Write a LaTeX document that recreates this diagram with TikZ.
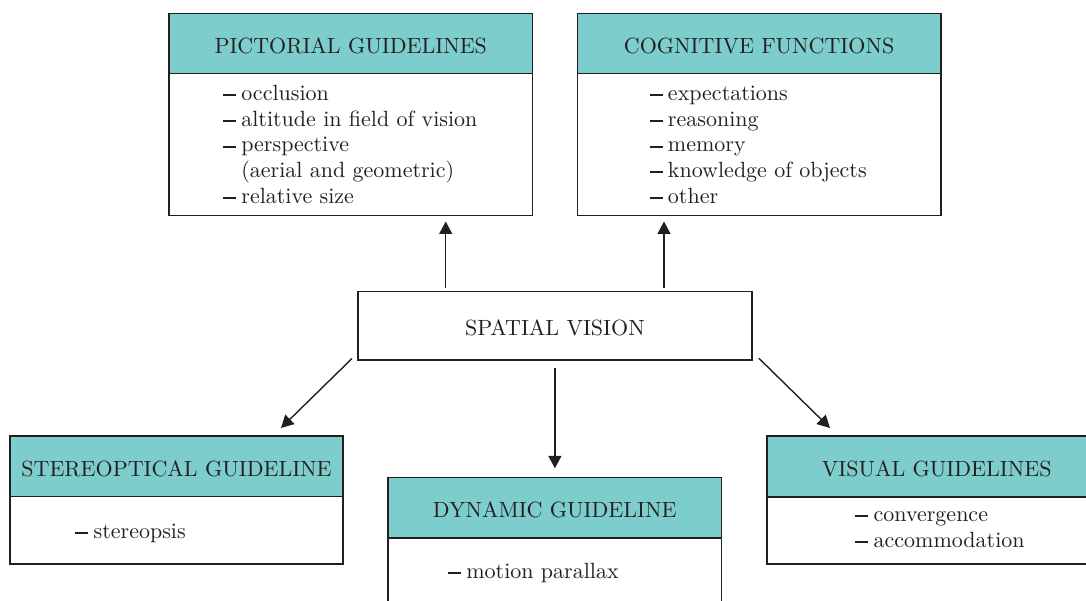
\documentclass[tikz,border=0pt]{standalone}
\usepackage{fontspec}
\setmainfont[Extension=.otf, UprightFont=*-regular]{lmroman10}
\usetikzlibrary{arrows.meta,calc}

\definecolor{ink}{RGB}{35,31,32}
\definecolor{headfill}{RGB}{124,205,203}

% short heavy dash that opens every list entry
\newcommand\itemdash{\rule[0.2em]{0.6em}{0.095em}\hspace{0.24em}}

\tikzset{
  every node/.style={font=\fontsize{22}{25.7}\selectfont, text=ink},
  hdr/.style={draw=ink, line width=1.5pt, fill=headfill, anchor=north west,
              inner sep=0pt, text height=20pt, text depth=0pt},
  bodybox/.style={draw=ink, line width=1.5pt, fill=white, anchor=north west, inner sep=0pt},
  entry/.style={anchor=base west, inner sep=0pt},
  arr/.style={draw=ink, line width=1.4pt, -{Triangle[length=12.5pt,width=13pt]}},
}

\begin{document}
\begin{tikzpicture}[x=1pt, y=-1pt]
\useasboundingbox (0,0) rectangle (1086,601);
\clip (0,0) rectangle (1086,601);

% ---- pictorial guidelines ----
\node[bodybox, minimum width=363.4pt, minimum height=142.3pt] (pictB) at (168.3,72.7) {};
\node[hdr, minimum width=363.4pt, minimum height=60pt] (pictH) at (168.3,12.7) {PICTORIAL GUIDELINES};
\node[entry] (p1) at (222.7,100.7) {\itemdash occlusion};
\node[entry] (p2) at (222.7,126.4) {\itemdash altitude in field of vision};
\node[entry] (p3) at (222.7,152.0) {\itemdash perspective};
\node[entry] (p4) at (222.7,177.6) {\phantom{\itemdash}(aerial and geometric)};
\node[entry] (p5) at (222.7,203.3) {\itemdash relative size};

% ---- cognitive functions ----
\node[bodybox, minimum width=363.3pt, minimum height=142.3pt] (cogB) at (576.7,72.7) {};
\node[hdr, minimum width=363.3pt, minimum height=60pt] (cogH) at (576.7,12.7) {COGNITIVE FUNCTIONS};
\node[entry] (c1) at (649.3,100.7) {\itemdash expectations};
\node[entry] (c2) at (649.3,126.4) {\itemdash reasoning};
\node[entry] (c3) at (649.3,152.0) {\itemdash memory};
\node[entry] (c4) at (649.3,177.6) {\itemdash knowledge of objects};
\node[entry] (c5) at (649.3,203.3) {\itemdash other};

% ---- spatial vision ----
\node[draw=ink, line width=1.5pt, fill=white, anchor=north west, inner sep=0pt,
      minimum width=393.7pt, minimum height=68.3pt, text height=20pt, text depth=0pt]
      (spat) at (357.3,291) {SPATIAL VISION};

% ---- stereoptical guideline ----
\node[bodybox, minimum width=333pt, minimum height=67.6pt] (sterB) at (9.3,495.7) {};
\node[hdr, minimum width=333pt, minimum height=60.7pt] (sterH) at (9.3,435) {STEREOPTICAL GUIDELINE};
\node[entry] (s1) at (75,538.3) {\itemdash stereopsis};

% ---- dynamic guideline ----
\node[bodybox, minimum width=333.4pt, minimum height=80pt] (dynB) at (387.3,537.3) {};
\node[hdr, minimum width=333.4pt, minimum height=60.6pt] (dynH) at (387.3,476.7) {DYNAMIC GUIDELINE};
\node[entry] (d1) at (447.7,578.3) {\itemdash motion parallax};

% ---- visual guidelines ----
\node[bodybox, minimum width=340pt, minimum height=67.3pt] (visB) at (766,496) {};
\node[hdr, minimum width=340pt, minimum height=61pt] (visH) at (766,435) {VISUAL GUIDELINES};
\node[entry] (v1) at (855,521.7) {\itemdash convergence};
\node[entry] (v2) at (855,547.3) {\itemdash accommodation};

% ---- connectors ----
\coordinate (u1) at ([shift={(88.4pt,3.3pt)}]spat.north west);
\coordinate (u2) at ([shift={(306.7pt,3.3pt)}]spat.north west);
\draw[arr, shorten >=5pt] (u1) -- (u1 |- pictB.south);
\draw[arr, shorten >=5pt] (u2) -- (u2 |- cogB.south);

\draw[arr, shorten <=6.7pt, shorten >=8.4pt] (spat.south) -- (spat.south |- dynH.north);

\coordinate (l0) at ([shift={(-5.3pt,2.3pt)}]spat.south west);
\coordinate (l1) at ([shift={(-62.8pt,7pt)}]sterH.north east);
\draw[arr] (l0) -- (l1);

\coordinate (r0) at ([shift={(6.3pt,2.6pt)}]spat.south east);
\coordinate (r1) at ([shift={(64pt,7pt)}]visH.north west);
\draw[arr] (r0) -- (r1);
\end{tikzpicture}
\end{document}
